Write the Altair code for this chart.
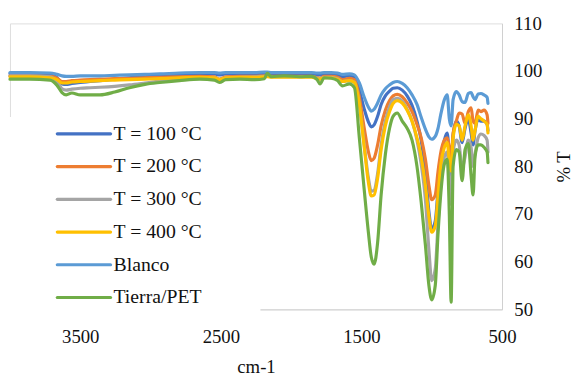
import altair as alt
import pandas as pd

# wavenumber (cm-1)
wavenumber = [4000, 3860, 3715, 3665, 3630, 3600, 3560, 3500, 3430, 3360,
              3255, 3150, 3040, 2935, 2795, 2650, 2545, 2510, 2465, 2365,
              2260, 2190, 2170, 2140, 2050, 1940, 1855, 1815, 1795, 1765,
              1715, 1670, 1635, 1585, 1550, 1515, 1480, 1450, 1430, 1410,
              1385, 1360, 1330, 1300, 1275, 1245, 1210, 1175, 1140, 1105,
              1075, 1045, 1020, 1000, 975, 955, 935, 910, 890, 875,
              862, 848, 825, 805, 784, 763, 740, 720, 706, 692,
              670, 650, 628, 606, 600]

t100 = [99.5, 99.4, 99.3, 98.6, 97.3, 97.2, 97.4, 97.6, 97.8, 98.0,
        98.3, 98.6, 98.9, 99.1, 99.3, 99.4, 99.4, 99.2, 99.4, 99.4,
        99.4, 99.5, 99.5, 99.4, 99.4, 99.4, 99.4, 99.2, 99.2, 99.4,
        99.4, 99.2, 98.8, 99.0, 98.7, 96.0, 92.0, 89.3, 88.3, 88.7,
        90.5, 93.0, 94.8, 95.8, 96.4, 96.5, 96.0, 94.8, 92.8, 89.5,
        85.5, 79.0, 70.5, 66.8, 68.5, 75.0, 80.5, 85.5, 87.0, 82.0,
        77.5, 86.5, 89.5, 88.5, 85.0, 88.0, 90.0, 87.0, 84.5, 87.5,
        89.8, 89.5, 89.5, 88.8, 87.5]

t200 = [99.0, 99.0, 98.9, 98.5, 97.8, 97.8, 98.0, 98.1, 98.2, 98.3,
        98.4, 98.5, 98.6, 98.7, 98.8, 98.9, 98.8, 98.3, 98.8, 98.9,
        98.9, 99.0, 99.0, 98.9, 98.9, 98.9, 98.9, 98.6, 98.5, 98.9,
        98.9, 98.7, 98.2, 98.5, 98.2, 94.5, 88.0, 83.0, 81.2, 81.7,
        84.5, 88.5, 91.8, 93.8, 94.8, 95.1, 94.6, 93.3, 91.5, 88.8,
        86.0, 81.5, 76.0, 73.0, 74.0, 79.0, 83.0, 85.5, 86.0, 84.0,
        82.0, 87.0, 89.5, 91.2, 91.0, 89.0, 91.5, 92.3, 89.5, 89.0,
        91.8, 91.5, 91.8, 90.8, 89.0]

t300 = [99.0, 99.0, 98.8, 97.8, 96.3, 96.0, 96.2, 96.4, 96.5, 96.6,
        96.8, 97.1, 97.5, 97.9, 98.2, 98.6, 98.6, 98.2, 98.6, 98.7,
        98.8, 98.9, 98.9, 98.8, 98.8, 98.8, 98.8, 98.5, 98.4, 98.7,
        98.7, 98.4, 97.8, 98.0, 97.7, 93.0, 84.5, 77.5, 74.8, 75.0,
        78.5, 84.5, 89.5, 92.5, 94.0, 94.3, 93.7, 92.0, 89.5, 85.5,
        80.5, 73.0, 62.5, 56.0, 58.5, 68.0, 76.0, 82.0, 83.0, 77.0,
        72.0, 83.0, 85.5, 84.5, 79.5, 82.0, 85.5, 84.0, 80.0, 82.5,
        86.0, 86.8, 86.5, 85.5, 83.0]

t400 = [98.8, 98.8, 98.6, 98.2, 97.5, 97.5, 97.7, 97.8, 97.9, 98.0,
        98.1, 98.2, 98.3, 98.4, 98.6, 98.7, 98.6, 98.2, 98.6, 98.7,
        98.7, 98.8, 98.8, 98.7, 98.7, 98.7, 98.7, 98.4, 98.3, 98.6,
        98.6, 98.3, 97.8, 98.0, 97.6, 93.0, 84.0, 76.5, 73.8, 74.0,
        77.5, 83.5, 88.5, 91.5, 93.2, 93.8, 93.3, 91.8, 89.5, 86.0,
        82.0, 76.0, 69.5, 66.2, 67.5, 74.0, 80.5, 84.0, 85.0, 81.0,
        79.0, 86.0, 88.8, 88.5, 85.5, 88.5, 90.8, 88.5, 85.5, 87.5,
        90.5, 90.0, 89.5, 88.8, 87.0]

blanco = [99.7, 99.7, 99.6, 99.3, 99.0, 98.9, 98.9, 99.0, 99.0, 99.0,
          99.1, 99.2, 99.3, 99.4, 99.6, 99.7, 99.7, 99.6, 99.7, 99.7,
          99.7, 99.8, 99.8, 99.7, 99.7, 99.7, 99.7, 99.6, 99.6, 99.7,
          99.7, 99.6, 99.3, 99.4, 99.2, 97.5, 94.5, 92.4, 91.6, 92.0,
          93.3, 95.0, 96.3, 97.1, 97.6, 97.8, 97.4, 96.5, 95.0, 93.0,
          90.3, 87.8, 86.2, 85.7, 86.3, 88.0, 91.0, 94.0, 95.0, 90.0,
          88.5, 94.0, 95.7, 95.0, 93.6, 93.4, 95.3, 95.5, 94.6, 94.0,
          95.2, 95.3, 95.0, 94.5, 93.2]

tierra_pet = [98.3, 98.3, 98.1, 97.0, 95.5, 95.0, 95.4, 95.0, 95.0, 95.0,
              95.6, 96.5, 97.2, 97.6, 98.0, 98.3, 98.1, 97.6, 98.2, 98.3,
              98.2, 98.4, 99.5, 98.8, 99.0, 98.8, 98.9, 98.2, 97.3, 98.6,
              98.5, 98.0, 96.9, 97.3, 96.5, 86.0, 75.0, 66.0, 61.0, 59.5,
              64.0, 74.0, 82.5, 88.0, 90.5, 91.2, 89.5, 88.0, 85.5, 80.0,
              72.5, 63.5, 55.0, 52.0, 55.0, 66.0, 74.5, 80.5, 81.5, 70.0,
              51.5, 80.0, 83.5, 83.0, 77.0, 83.5, 84.8, 78.0, 74.0, 82.0,
              84.5, 84.5, 84.0, 83.0, 80.8]

series_names = ["T = 100 °C", "T = 200 °C", "T = 300 °C", "T = 400 °C", "Blanco", "Tierra/PET"]
series_values = [t100, t200, t300, t400, blanco, tierra_pet]
colors = ["#4472C4", "#ED7D31", "#A5A5A5", "#FFC000", "#5B9BD5", "#70AD47"]

x_ticks = [3500, 2500, 1500, 500]
y_ticks = [50, 60, 70, 80, 90, 100, 110]

FONT = "Liberation Serif, Times New Roman, serif"
W, H = 499, 290
PAD_L, PAD_T = 2, 13

x_scale = alt.Scale(domain=[500, 4000], reverse=True, nice=False, zero=False)
y_scale = alt.Scale(domain=[50, 110], nice=False, zero=False)

x_axis = alt.Axis(values=x_ticks, format="d", title="cm-1", grid=False, ticks=False,
                  domainColor="#D0D0D0", domainWidth=1,
                  labelFont=FONT, labelFontSize=19, labelColor="#111111",
                  labelBaseline="middle", labelPadding=28, labelFlush=False,
                  titleFont=FONT, titleFontSize=19, titleFontWeight="normal",
                  titleColor="#111111", titleBaseline="middle", titleY=58)
y_axis = alt.Axis(orient="right", values=y_ticks, title="% T", grid=False, ticks=False,
                  domainColor="#D0D0D0", domainWidth=1,
                  labelFont=FONT, labelFontSize=19, labelColor="#111111",
                  labelPadding=12,
                  titleFont=FONT, titleFontSize=19, titleFontWeight="normal",
                  titleColor="#111111", titleAngle=270, titleAlign="center",
                  titleBaseline="middle", titleX=62, titleY=H / 2)

layers = []
for name, vals, col in zip(series_names, series_values, colors):
    df = pd.DataFrame({"w": wavenumber, "T": vals, "serie": name})
    layers.append(
        alt.Chart(df).mark_line(color=col, strokeWidth=3.2, interpolate="monotone",
                                strokeCap="round", strokeJoin="round").encode(
            x=alt.X("w:Q", scale=x_scale, axis=x_axis),
            y=alt.Y("T:Q", scale=y_scale, axis=y_axis),
        )
    )

# legend box (covers the axis line like the Excel legend)
layers.append(
    alt.Chart(pd.DataFrame({"a": [0]})).mark_rect(color="white").encode(
        x=alt.value(-5), x2=alt.value(254), y=alt.value(95), y2=alt.value(296)
    )
)

leg_y0, leg_step = 112, 33.2
for i, (name, col) in enumerate(zip(series_names, colors)):
    yy = leg_y0 + i * leg_step
    ldf = pd.DataFrame({"name": [name]})
    layers.append(
        alt.Chart(ldf).mark_rule(color=col, strokeWidth=3.2, strokeCap="round").encode(
            x=alt.value(48), x2=alt.value(102), y=alt.value(yy)
        )
    )
    layers.append(
        alt.Chart(ldf).mark_text(align="left", baseline="middle", font=FONT,
                                 fontSize=20, color="#111111").encode(
            x=alt.value(105), y=alt.value(yy), text="name:N"
        )
    )

chart = alt.layer(*layers).properties(
    width=W, height=H,
    padding={"left": PAD_L, "top": PAD_T, "right": 575 - PAD_L - W, "bottom": 68},
    autosize=alt.AutoSizeParams(type="none"),
).configure_view(stroke=None).configure(background="white")

chart.save("out.html", embed_options={"renderer": "svg", "actions": False})
